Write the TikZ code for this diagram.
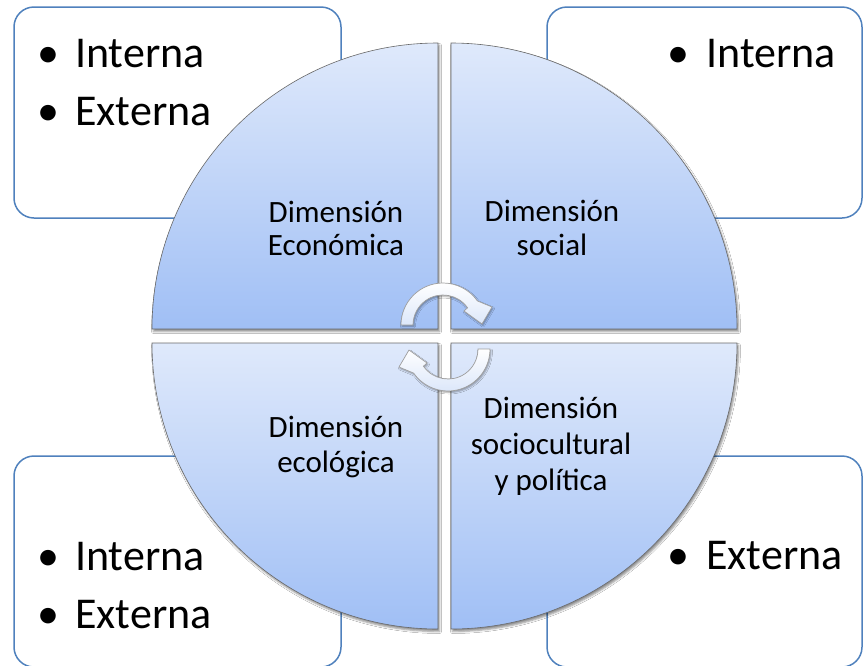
\documentclass[tikz,border=0pt]{standalone}
\usepackage{fontspec}
\setmainfont{Carlito}
\usetikzlibrary{shadows.blur}
\definecolor{boxblue}{RGB}{79,129,189}
\definecolor{qtop}{RGB}{223,233,251}
\definecolor{qbot}{RGB}{160,191,245}
\definecolor{qedge}{RGB}{105,105,105}
\definecolor{arrbot}{RGB}{220,231,250}
\begin{document}
\begin{tikzpicture}[x=1pt,y=-1pt,
  sidebox/.style={draw=boxblue,line width=1.5pt,fill=white,rounded corners=20pt},
  quad/.style={draw=qedge,line width=0.6pt,top color=qtop,bottom color=qbot,
    blur shadow={shadow xshift=1.5pt,shadow yshift=-2.5pt,shadow blur radius=2pt,shadow opacity=45}},
  cyc/.style={draw=gray!75,line width=0.7pt,top color=white,bottom color=arrbot,
    blur shadow={shadow xshift=1pt,shadow yshift=-1.5pt,shadow blur radius=1.5pt,shadow opacity=35}},
  bigtxt/.style={font=\fontsize{44}{53}\selectfont,inner sep=0pt,anchor=base west},
  bul/.style={font=\fontsize{44}{53}\selectfont,inner sep=0pt,anchor=base},
  qtxt/.style={font=\fontsize{31}{33}\selectfont,inner sep=0pt,anchor=base}]
\useasboundingbox (0,0) rectangle (864,665);
\fill[white] (0,0) rectangle (864,665);
% side boxes
\draw[sidebox] (14,7) rectangle (341,218);
\draw[sidebox] (547,7) rectangle (862,218);
\draw[sidebox] (14,456) rectangle (341,667);
\draw[sidebox] (547,456) rectangle (862,667);
% quadrants
\path[quad] (438,329) -- (152,329) arc[start angle=180,end angle=270,radius=286] -- cycle;
\path[quad] (451,329) -- (451,43) arc[start angle=270,end angle=360,radius=286] -- cycle;
\path[quad] (438,343) -- (438,629) arc[start angle=90,end angle=180,radius=286] -- cycle;
\path[quad] (451,343) -- (737,343) arc[start angle=0,end angle=90,radius=286] -- cycle;
% cycle arrows
\path[cyc] (401,325) arc[start angle=180,end angle=325,radius=42]
  -- (492,307) -- (482,324) -- (464,311) -- (467.58,307.79)
  arc[start angle=325,end angle=180,radius=30] -- cycle;
\path[cyc] (490,349) arc[start angle=0,end angle=145,radius=42]
  -- (399,367) -- (409,350) -- (427,363) -- (423.42,366.21)
  arc[start angle=145,end angle=0,radius=30] -- cycle;
% box texts
\node[bul] (b1) at (48,67) {•};
\node[bigtxt] (t1) at (75,67) {Interna};
\node[bul] (b2) at (48,125) {•};
\node[bigtxt] (t2) at (75,125) {Externa};
\node[bul] (b3) at (678,67) {•};
\node[bigtxt] (t3) at (706,67) {Interna};
\node[bul] (b4) at (48,570) {•};
\node[bigtxt] (t4) at (75,570) {Interna};
\node[bul] (b5) at (48,628) {•};
\node[bigtxt] (t5) at (75,628) {Externa};
\node[bul] (b6) at (678,569) {•};
\node[bigtxt] (t6) at (706,569) {Externa};
% quadrant labels
\node[qtxt] (q1a) at (336,222) {Dimensión};
\node[qtxt] (q1b) at (336,255) {Económica};
\node[qtxt] (q2a) at (552,221) {Dimensión};
\node[qtxt] (q2b) at (552,255) {social};
\node[qtxt] (q3a) at (336,437) {Dimensión};
\node[qtxt] (q3b) at (336,472) {ecológica};
\node[qtxt] (q4a) at (551,418) {Dimensión};
\node[qtxt] (q4b) at (551,454) {sociocultural};
\node[qtxt] (q4c) at (551,490) {y política};
\end{tikzpicture}
\end{document}
